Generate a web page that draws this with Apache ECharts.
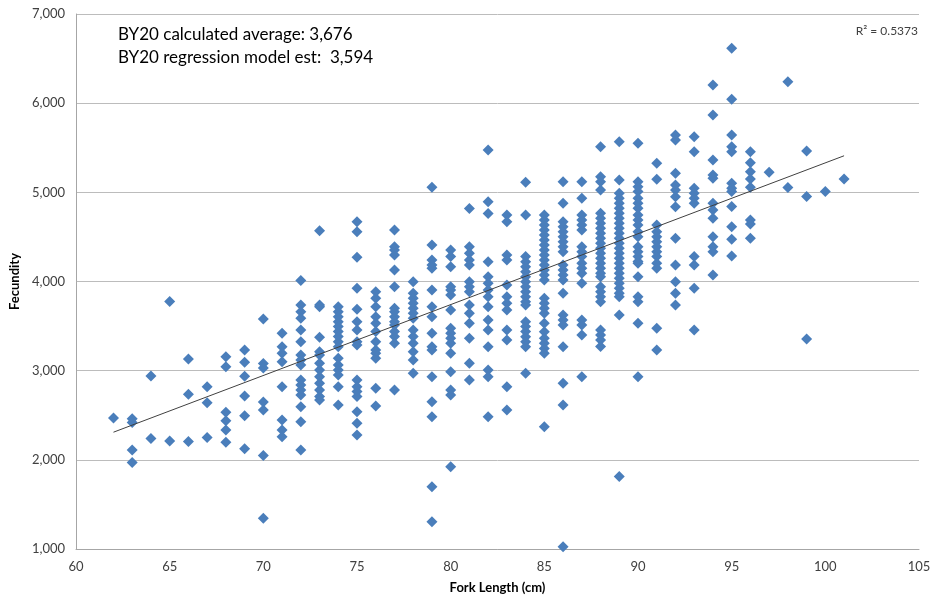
<!DOCTYPE html>
<html lang="en">

<head>
  <meta charset="UTF-8">
  <title>Fecundity vs Fork Length</title>
  <script src="https://cdn.jsdelivr.net/npm/echarts@6/dist/echarts.min.js"></script>
  <style>
    html, body { margin: 0; padding: 0; background: #fff; }
  </style>
</head>

<body>
  <div id="main" style="width: 935px;height:603px;"></div>
  <script>
    // fork lengths (cm) that have fish
    var forkLengths = [62, 63, 64, 65, 66, 67, 68, 69, 70, 71, 72, 73, 74, 75, 76, 77, 78, 79, 80, 81,
      82, 83, 84, 85, 86, 87, 88, 89, 90, 91, 92, 93, 94, 95, 96, 97, 98, 99, 100, 101];

    // fecundity values for each fork length
    var fecundity = [
      [2470],
      [2460, 2420, 2110, 1970],
      [2940, 2240],
      [3775, 2210],
      [3130, 2735, 2205],
      [2820, 2640, 2250],
      [3157, 3044, 2533, 2439, 2335, 2197],
      [3232, 3094, 2937, 2716, 2495, 2124],
      [3580, 3080, 3030, 2650, 2560, 2050, 1345],
      [3419, 3269, 3194, 3101, 2821, 2447, 2335, 2260],
      [4010, 3737, 3662, 3587, 3456, 3325, 3176, 3120, 3064, 2895, 2839, 2783, 2727, 2596, 2428, 2110],
      [4570, 3737, 3718, 3374, 3213, 3176, 3082, 3008, 2933, 2858, 2783, 2709, 2671],
      [3718, 3662, 3606, 3550, 3494, 3438, 3382, 3325, 3269, 3139, 3064, 3008, 2952, 2821, 2615],
      [4671, 4559, 4271, 3923, 3688, 3550, 3456, 3325, 3288, 2895, 2821, 2765, 2709, 2540, 2410, 2279],
      [3886, 3811, 3718, 3606, 3531, 3438, 3325, 3232, 3194, 3139, 2802, 2604],
      [4578, 4391, 4353, 4297, 4129, 3942, 3699, 3662, 3606, 3550, 3512, 3438, 3382, 3307, 2783],
      [3998, 3867, 3811, 3755, 3699, 3643, 3587, 3456, 3382, 3307, 3213, 3120, 2970],
      [5056, 4409, 4241, 4185, 4148, 3905, 3718, 3606, 3419, 3269, 3232, 2933, 2652, 2484, 1699, 1307],
      [4353, 4279, 4166, 3942, 3905, 3849, 3680, 3475, 3419, 3363, 3307, 3194, 2989, 2783, 2727, 1923],
      [4820, 4391, 4316, 4241, 4185, 3998, 3942, 3886, 3737, 3643, 3531, 3363, 3082, 2895],
      [5475, 4895, 4764, 4222, 4054, 3979, 3905, 3830, 3718, 3568, 3456, 3269, 3008, 2933, 2484],
      [4746, 4671, 4297, 4241, 3961, 3830, 3755, 3680, 3456, 3344, 2821, 2559],
      [5112, 4746, 4279, 4222, 4166, 4110, 4054, 3998, 3942, 3886, 3830, 3774, 3737, 3550, 3494, 3438,
        3381, 3325, 3269, 2970],
      [4746, 4690, 4634, 4578, 4521, 4465, 4409, 4353, 4297, 4241, 4185, 4129, 4073, 4017, 3811, 3755,
        3699, 3643, 3531, 3437, 3363, 3307, 3250, 3194, 2372],
      [5120, 4877, 4671, 4615, 4559, 4503, 4447, 4391, 4334, 4185, 4129, 4073, 4017, 3867, 3624, 3568,
        3512, 3269, 2858, 2615, 1026],
      [5120, 4933, 4746, 4690, 4634, 4578, 4391, 4334, 4279, 4204, 4148, 4092, 3979, 3568, 3512, 3400, 2933],
      [5512, 5176, 5120, 5026, 4765, 4709, 4653, 4596, 4540, 4484, 4428, 4372, 4316, 4260, 4204, 4148,
        4092, 4054, 3942, 3886, 3830, 3774, 3456, 3400, 3344, 3270],
      [5568, 5138, 4989, 4933, 4877, 4821, 4765, 4709, 4652, 4596, 4540, 4484, 4428, 4372, 4316, 4260,
        4204, 4148, 4092, 4036, 3980, 3923, 3867, 3830, 3625, 1812],
      [5550, 5120, 5064, 5008, 4933, 4877, 4821, 4746, 4690, 4634, 4559, 4503, 4391, 4335, 4279, 4223,
        4204, 4054, 3830, 3774, 3531, 2933],
      [5325, 5146, 4634, 4559, 4503, 4447, 4391, 4335, 4279, 4204, 4148, 3475, 3232],
      [5643, 5587, 5213, 5082, 5026, 4951, 4839, 4484, 4185, 3998, 3867, 3737],
      [5624, 5456, 5045, 4989, 4933, 4877, 4279, 4185, 3924, 3456],
      [6204, 5867, 5363, 5194, 5157, 4877, 4802, 4709, 4503, 4391, 4335, 4073],
      [6615, 6043, 5643, 5512, 5456, 5101, 5045, 5008, 4840, 4615, 4473, 4286],
      [5456, 5333, 5232, 5150, 5056, 4690, 4645, 4484],
      [5225],
      [6241, 5053],
      [5464, 4952, 3355],
      [5008],
      [5150]
    ];

    // linear trendline end points as drawn on the chart
    var trendX = [62, 101];
    var trendY = [2310, 5410];

    // axis ticks
    var xTicks = [60, 65, 70, 75, 80, 85, 90, 95, 100, 105];
    var yTicks = [1000, 2000, 3000, 4000, 5000, 6000, 7000];

    // text boxes
    var notes = ['BY20 calculated average: 3,676', 'BY20 regression model est:  3,594'];
    var rSquared = 'R\u00b2 = 0.5373';

    // build [x, y] pairs
    var points = [];
    for (var i = 0; i < forkLengths.length; i++) {
      for (var j = 0; j < fecundity[i].length; j++) {
        points.push([forkLengths[i], fecundity[i][j]]);
      }
    }
    var trendPoints = trendX.map(function (x, k) { return [x, trendY[k]]; });

    var font = 'Lato, "Open Sans", sans-serif';
    var myChart = echarts.init(document.getElementById('main'));

    var option = {
      animation: false,
      grid: { left: 74, right: 16, top: 14, bottom: 54 },
      xAxis: {
        type: 'value',
        min: xTicks[0],
        max: xTicks[xTicks.length - 1],
        interval: 5,
        name: 'Fork Length (cm)',
        nameLocation: 'middle',
        nameGap: 32,
        nameTextStyle: { fontFamily: font, fontWeight: 'bold', fontSize: 13, color: '#000' },
        axisLine: { lineStyle: { color: '#a6a6a6' } },
        axisTick: { show: false },
        splitLine: { show: false },
        axisLabel: { fontFamily: font, fontSize: 13, color: '#404040', margin: 11 }
      },
      yAxis: {
        type: 'value',
        min: yTicks[0],
        max: yTicks[yTicks.length - 1],
        interval: 1000,
        name: 'Fecundity',
        nameLocation: 'middle',
        nameGap: 52,
        nameTextStyle: { fontFamily: font, fontWeight: 'bold', fontSize: 13, color: '#000' },
        axisLine: { show: true, lineStyle: { color: '#a6a6a6' } },
        axisTick: { show: false },
        splitLine: { lineStyle: { color: '#bcbcbc' } },
        axisLabel: {
          fontFamily: font, fontSize: 13, color: '#404040', margin: 11,
          formatter: function (v) { return v.toLocaleString('en-US'); }
        }
      },
      graphic: [
        { type: 'text', left: 118, top: 26, style: { text: notes[0], font: '17px ' + font, fill: '#000' } },
        { type: 'text', left: 118, top: 49, style: { text: notes[1], font: '17px ' + font, fill: '#000' } },
        { type: 'text', right: 17, top: 25, style: { text: rSquared, font: '12px ' + font, fill: '#404040' } }
      ],
      series: [
        {
          name: 'Fecundity',
          type: 'scatter',
          symbol: 'diamond',
          symbolSize: [11, 11],
          itemStyle: { color: '#4a7ebb', opacity: 1 },
          data: points,
          z: 2
        },
        {
          name: 'Trend',
          type: 'line',
          symbol: 'none',
          silent: true,
          lineStyle: { color: '#404040', width: 1 },
          data: trendPoints,
          z: 3
        }
      ]
    };

    myChart.setOption(option);
  </script>
</body>

</html>
